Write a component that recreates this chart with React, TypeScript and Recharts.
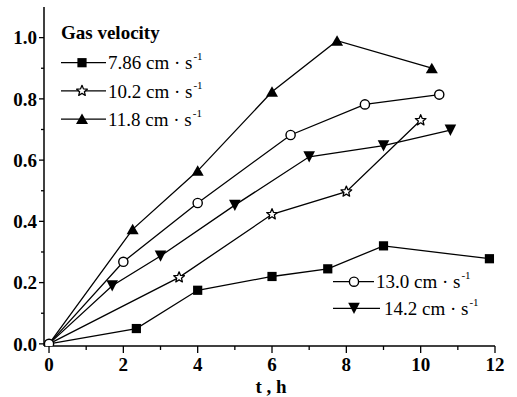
import React from 'react'
import { LineChart, Line, XAxis, YAxis } from 'recharts'

// time, h
const tV786 = [0, 2.35, 4.0, 6.0, 7.5, 9.0, 11.85]
const tV102 = [0, 3.5, 6.0, 8.0, 10.0]
const tV118 = [0, 2.25, 4.0, 6.0, 7.75, 10.3]
const tV130 = [0, 2.0, 4.0, 6.5, 8.5, 10.5]
const tV142 = [0, 1.7, 3.0, 5.0, 7.0, 9.0, 10.8]

// measured response for each gas velocity
const yV786 = [0, 0.05, 0.175, 0.22, 0.245, 0.32, 0.278]
const yV102 = [0, 0.217, 0.423, 0.497, 0.73]
const yV118 = [0, 0.374, 0.565, 0.823, 0.99, 0.9]
const yV130 = [0, 0.268, 0.46, 0.682, 0.782, 0.814]
const yV142 = [0, 0.19, 0.287, 0.453, 0.611, 0.647, 0.698]

const xTicks = [0, 1, 2, 3, 4, 5, 6, 7, 8, 9, 10, 11, 12]
const yTicks = [0, 0.1, 0.2, 0.3, 0.4, 0.5, 0.6, 0.7, 0.8, 0.9, 1.0]

const topLegend = ['7.86', '10.2', '11.8']
const bottomLegend = ['13.0', '14.2']

type Shape = 'square' | 'star' | 'up' | 'circle' | 'down'

const toRows = (t: number[], v: number[]) => t.map((x, i) => ({ t: x, v: v[i] }))

const series: { name: string; shape: Shape; data: { t: number; v: number }[] }[] = [
  { name: '7.86', shape: 'square', data: toRows(tV786, yV786) },
  { name: '10.2', shape: 'star', data: toRows(tV102, yV102) },
  { name: '11.8', shape: 'up', data: toRows(tV118, yV118) },
  { name: '14.2', shape: 'down', data: toRows(tV142, yV142) },
  { name: '13.0', shape: 'circle', data: toRows(tV130, yV130) },
]

const FONT = '"Liberation Serif", "Times New Roman", serif'

function Marker({ shape, cx, cy }: { shape: Shape; cx: number; cy: number }) {
  switch (shape) {
    case 'square':
      return <rect x={cx - 4.6} y={cy - 4.6} width={9.2} height={9.2} fill="#000" />
    case 'up':
      return <polygon points={`${cx - 6},${cy + 5} ${cx + 6},${cy + 5} ${cx},${cy - 5.5}`} fill="#000" />
    case 'down':
      return <polygon points={`${cx - 5.8},${cy - 5.5} ${cx + 5.8},${cy - 5.5} ${cx},${cy + 5.8}`} fill="#000" />
    case 'circle':
      return <circle cx={cx} cy={cy} r={4.6} fill="#fff" stroke="#000" strokeWidth={1.4} />
    case 'star': {
      const pts: string[] = []
      for (let i = 0; i < 10; i++) {
        const r = i % 2 === 0 ? 5.6 : 2.5
        const a = -Math.PI / 2 + (i * Math.PI) / 5
        pts.push(`${cx + r * Math.cos(a)},${cy + r * Math.sin(a)}`)
      }
      return <polygon points={pts.join(' ')} fill="#fff" stroke="#000" strokeWidth={1.3} strokeLinejoin="round" />
    }
  }
  return null
}

function YTick({ x, y, payload }: any) {
  const major = Math.round(payload.value * 10) % 2 === 0
  return (
    <g>
      <line x1={x - (major ? 5 : 3)} x2={x} y1={y} y2={y} stroke="#000" strokeWidth={1.3} />
      {major && (
        <text x={x - 7} y={y} dy="0.35em" textAnchor="end" fontFamily={FONT} fontWeight="bold" fontSize={19} fill="#000">
          {payload.value.toFixed(1)}
        </text>
      )}
    </g>
  )
}

function XTick({ x, y, payload }: any) {
  const major = payload.value % 2 === 0
  return (
    <g>
      <line x1={x} x2={x} y1={y} y2={y + (major ? 7 : 4)} stroke="#000" strokeWidth={1.3} />
      {major && (
        <text x={x} y={y + 25} textAnchor="middle" fontFamily={FONT} fontWeight="bold" fontSize={19} fill="#000">
          {payload.value}
        </text>
      )}
    </g>
  )
}

function LegendRow({ shape, label, x1, x2, mx, tx, y }: { shape: Shape; label: string; x1: number; x2: number; mx: number; tx: number; y: number }) {
  return (
    <g>
      <line x1={x1} x2={x2} y1={y} y2={y} stroke="#000" strokeWidth={1.3} />
      <Marker shape={shape} cx={mx} cy={y} />
      <text x={tx} y={y + 6.7} fontFamily={FONT} fontSize={19} fill="#000">
        {label} cm · s
        <tspan dx={1} dy={-9} fontSize={11}>-1</tspan>
      </text>
    </g>
  )
}

export default function App() {
  const topShapes: Shape[] = ['square', 'star', 'up']
  const bottomShapes: Shape[] = ['circle', 'down']
  return (
    <div style={{ position: 'absolute', left: 0, top: 0, width: 517, height: 397, background: '#fff' }}>
      <LineChart width={517} height={397} margin={{ top: 7, right: 22, left: 0, bottom: 0 }}>
        <XAxis
          dataKey="t"
          type="number"
          domain={[-0.135, 12]}
          ticks={xTicks}
          interval={0}
          allowDataOverflow
          height={51}
          tickSize={0}
          tickMargin={0}
          tickLine={false}
          tick={<XTick />}
          axisLine={{ stroke: '#000', strokeWidth: 1.5 }}
        />
        <XAxis xAxisId="top" orientation="top" type="number" domain={[-0.135, 12]} height={0} tick={false} tickLine={false} axisLine={{ stroke: '#000', strokeWidth: 1.5 }} />
        <YAxis
          dataKey="v"
          type="number"
          domain={[-0.007, 1.1]}
          ticks={yTicks}
          interval={0}
          allowDataOverflow
          width={44}
          tickSize={0}
          tickMargin={0}
          tickLine={false}
          tick={<YTick />}
          axisLine={{ stroke: '#000', strokeWidth: 1.5 }}
        />
        <YAxis yAxisId="right" orientation="right" type="number" domain={[0, 1]} width={0} tick={false} tickLine={false} axisLine={{ stroke: '#000', strokeWidth: 1.5 }} />
        {series.map((s) => (
          <Line
            key={s.name}
            data={s.data}
            dataKey="v"
            type="linear"
            stroke="#000"
            strokeWidth={1.3}
            isAnimationActive={false}
            dot={(p: any) =>
              // only the 13.0 series marks the common origin
              p.index === 0 && s.shape !== 'circle' ? (
                <g key={`${s.name}-${p.index}`} />
              ) : (
                <g key={`${s.name}-${p.index}`}>
                  <Marker shape={s.shape} cx={p.cx} cy={p.cy} />
                </g>
              )
            }
            activeDot={false}
          />
        ))}
      </LineChart>
      <svg width={517} height={397} style={{ position: 'absolute', left: 0, top: 0, pointerEvents: 'none' }}>
        <text x={61} y={39} fontFamily={FONT} fontWeight="bold" fontSize={19} fill="#000">
          Gas velocity
        </text>
        {topLegend.map((lab, i) => (
          <LegendRow key={lab} shape={topShapes[i]} label={lab} x1={61} x2={106} mx={82} tx={108} y={62.7 + i * 28.2} />
        ))}
        {bottomLegend.map((lab, i) => (
          <LegendRow key={lab} shape={bottomShapes[i]} label={lab} x1={333} x2={i === 0 ? 374 : 380} mx={354} tx={i === 0 ? 376 : 384} y={281.7 + i * 26.6} />
        ))}
        <text x={271} y={393} textAnchor="middle" fontFamily={FONT} fontWeight="bold" fontSize={19} fill="#000">
          t , h
        </text>
      </svg>
    </div>
  )
}
